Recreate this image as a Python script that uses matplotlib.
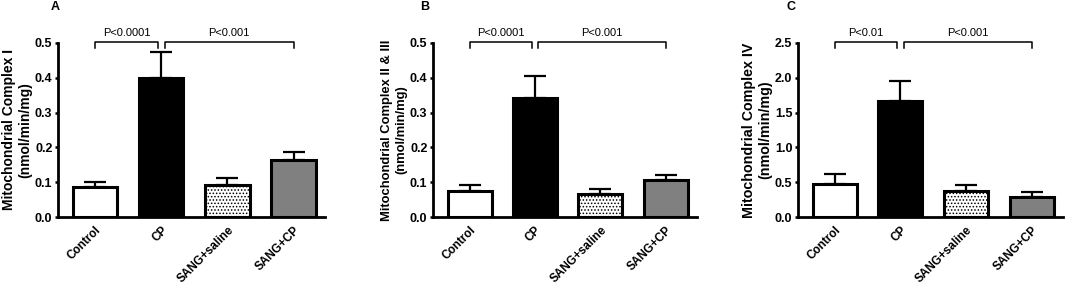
import numpy as np
import matplotlib.pyplot as plt

plt.rcParams['font.family'] = ['Liberation Sans', 'DejaVu Sans']
plt.rcParams['hatch.color'] = '#9a9a9a'
plt.rcParams['hatch.linewidth'] = 0.7

groups = ['Control', 'CP', 'SANG+saline', 'SANG+CP']

# panel A - complex I
means_a = [0.085, 0.40, 0.092, 0.165]
sem_a = [0.017, 0.075, 0.019, 0.022]
# panel B - complex II & III
means_b = [0.074, 0.343, 0.065, 0.107]
sem_b = [0.019, 0.062, 0.015, 0.015]
# panel C - complex IV
means_c = [0.47, 1.67, 0.37, 0.29]
sem_c = [0.15, 0.29, 0.09, 0.07]

pvals_a = ['P<0.0001', 'P<0.001']
pvals_b = ['P<0.0001', 'P<0.001']
pvals_c = ['P<0.01', 'P<0.001']

ylabels = ['Mitochondrial Complex I\n(nmol/min/mg)',
           'Mitochondrial Complex II & III\n(nmol/min/mg)',
           'Mitochondrial Complex IV\n(nmol/min/mg)']
ylabel_sizes = [10, 9.4, 10.3]
letters = ['A', 'B', 'C']
letter_dx = [-0.011, -0.03, -0.026]
ymaxs = [0.5, 0.5, 2.5]
ysteps = [0.1, 0.1, 0.5]

fig = plt.figure(figsize=(10.65, 2.86), dpi=100)
lefts = [0.0545, 0.4066, 0.7493]
widths = [0.251, 0.248, 0.249]

panels = [(means_a, sem_a, pvals_a), (means_b, sem_b, pvals_b), (means_c, sem_c, pvals_c)]
colors = ['white', 'black', 'white', '#808080']
hatches = [None, None, '.....', None]

x = np.arange(4)
for i, (m, s, pv) in enumerate(panels):
    ax = fig.add_axes([lefts[i], 0.241, widths[i], 0.609])
    bars = ax.bar(x, m, width=0.67, color=colors, edgecolor='black', linewidth=2.2, zorder=2)
    for b, h in zip(bars, hatches):
        if h:
            b.set_hatch(h)
    ax.errorbar(x, m, yerr=[np.zeros(4), s], fmt='none', ecolor='black',
                elinewidth=1.6, capsize=8, capthick=1.6, zorder=1)
    ymax = ymaxs[i]
    ticks = np.arange(0, ymax + 1e-9, ysteps[i])
    ax.set_ylim(0, ymax)
    ax.set_xlim(-0.56, 3.48)
    ax.set_yticks(ticks)
    ax.set_yticklabels(['%.1f' % v for v in ticks], fontsize=9, fontweight='bold')
    ax.set_xticks(x)
    ax.set_xticklabels(groups, rotation=45, ha='right', rotation_mode='anchor',
                       fontsize=8.5, fontweight='bold')
    ax.tick_params(axis='x', length=0, pad=5)
    ax.tick_params(axis='y', width=1.8, length=2.5, pad=1.5)
    for sp in ['top', 'right']:
        ax.spines[sp].set_visible(False)
    for sp in ['left', 'bottom']:
        ax.spines[sp].set_linewidth(2)
    ax.set_ylabel(ylabels[i], fontsize=ylabel_sizes[i], fontweight='bold', labelpad=2)

    # significance brackets
    yb = ymax * 1.008
    yd = ymax * 0.972
    for (x0, x1), txt in zip([(0, 0.95), (1.05, 3)], pv):
        ax.plot([x0, x0, x1, x1], [yd, yb, yb, yd], color='black', lw=1.1, clip_on=False)
        ax.text((x0 + x1) / 2, ymax * 1.03, txt, ha='center', va='bottom', fontsize=8)

    ax.text(letter_dx[i], 1.204, letters[i], transform=ax.transAxes, fontsize=9,
            fontweight='bold', ha='center', va='center')

fig.savefig('out.png', dpi=100)
